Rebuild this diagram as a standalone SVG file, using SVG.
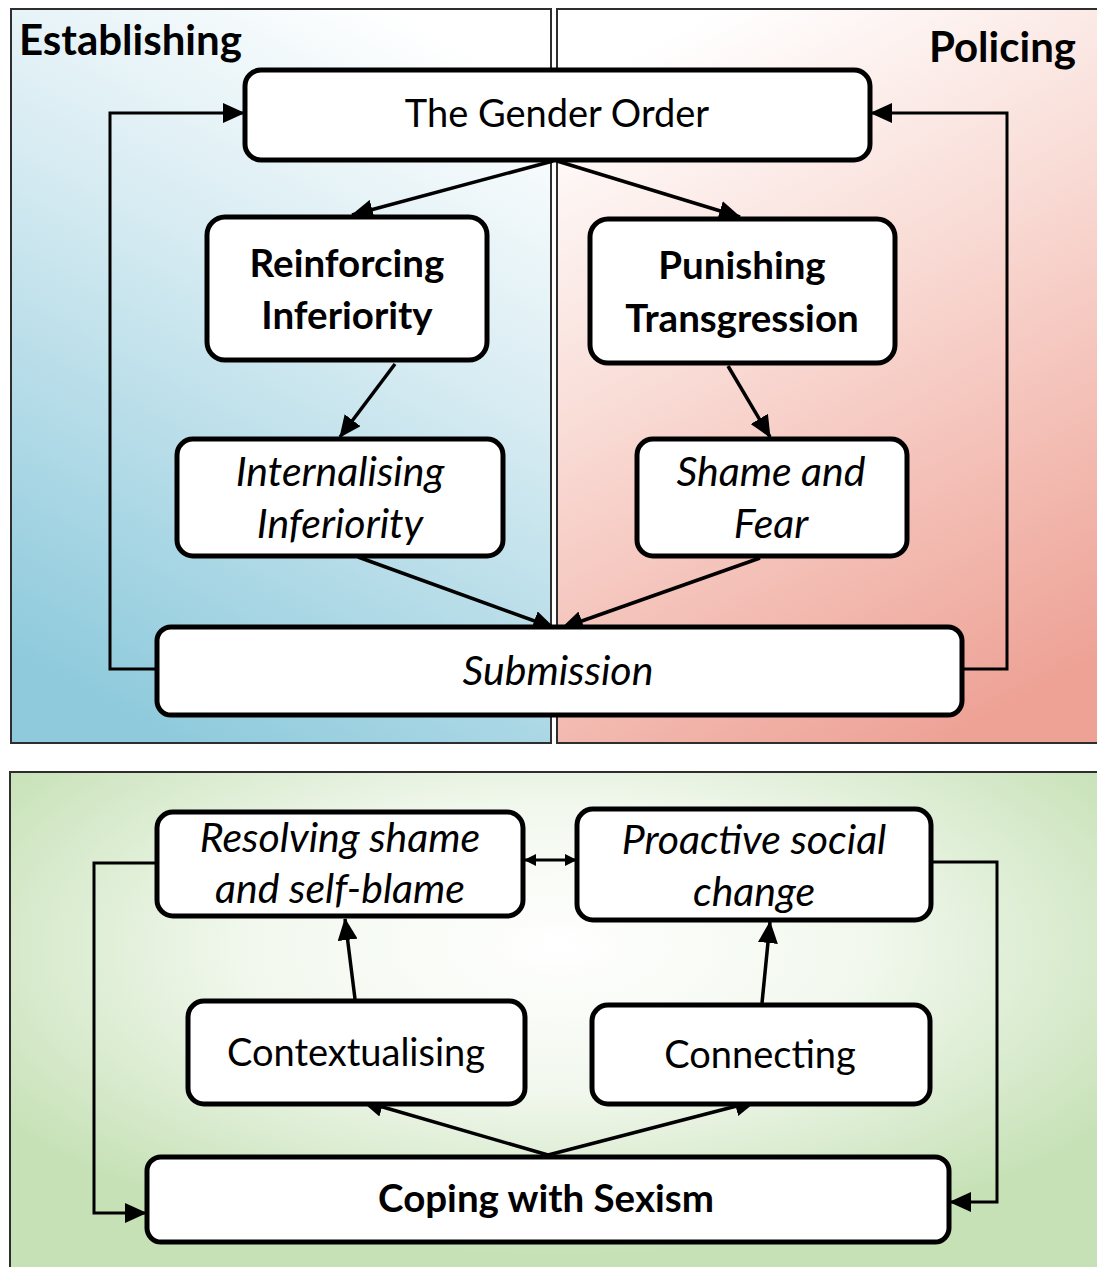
<svg xmlns="http://www.w3.org/2000/svg" width="1097" height="1267" viewBox="0 0 1097 1267">
  <defs>
    <linearGradient id="gradEst" x1="0.7" y1="0" x2="0.3" y2="1">
      <stop offset="0" stop-color="#ffffff"/>
      <stop offset="0.4" stop-color="#d6ebf2"/>
      <stop offset="1" stop-color="#8ecadc"/>
    </linearGradient>
    <linearGradient id="gradPol" x1="0.3" y1="0" x2="0.7" y2="1">
      <stop offset="0" stop-color="#ffffff"/>
      <stop offset="0.4" stop-color="#f9dcd6"/>
      <stop offset="1" stop-color="#eea296"/>
    </linearGradient>
    <radialGradient id="gradCope" cx="0.5" cy="0.35" r="0.62">
      <stop offset="0" stop-color="#ffffff"/>
      <stop offset="0.45" stop-color="#f2f8ee"/>
      <stop offset="1" stop-color="#c6e1b6"/>
    </radialGradient>
    <marker id="ah" markerUnits="userSpaceOnUse" markerWidth="23" markerHeight="20" refX="21" refY="10" orient="auto">
      <path d="M0,0 L22,10 L0,20 z" fill="#000"/>
    </marker>
    <marker id="ahSmall" markerUnits="userSpaceOnUse" markerWidth="12" markerHeight="12" refX="11" refY="6" orient="auto-start-reverse">
      <path d="M0,0 L12,6 L0,12 z" fill="#000"/>
    </marker>
  </defs>
  <style>
    .panel { stroke: #2e2e2e; stroke-width: 2; }
    .node { fill: #ffffff; stroke: #000; stroke-width: 5; }
    .t { font-family: Lato, "Liberation Sans", sans-serif; fill: #000; text-anchor: middle; font-size: 38px; }
    .b { font-weight: bold; font-size: 38.5px; }
    .i { font-style: italic; font-size: 41px; }
    .title { font-family: Lato, "Liberation Sans", sans-serif; font-weight: bold; font-size: 42px; fill: #000; }
    .conn { fill: none; stroke: #000; stroke-width: 3.5; }
    .loop { fill: none; stroke: #000; stroke-width: 3; }
  </style>

  <!-- background panels -->
  <g id="panels">
    <rect class="panel" x="11" y="9" width="540" height="734" fill="url(#gradEst)"/>
    <rect class="panel" x="557" y="9" width="545" height="734" fill="url(#gradPol)"/>
    <rect class="panel" x="10" y="772" width="1095" height="500" fill="url(#gradCope)"/>
    <text class="title" x="19" y="55">Establishing</text>
    <text class="title" x="1076" y="62" text-anchor="end">Policing</text>
  </g>

  <!-- connectors -->
  <g id="connectors">
    <path class="conn" d="M553,161 L352,215" marker-end="url(#ah)"/>
    <path class="conn" d="M557,161 L740,217" marker-end="url(#ah)"/>
    <path class="conn" d="M395,364 L340,437" marker-end="url(#ah)"/>
    <path class="conn" d="M728,366 L770,437" marker-end="url(#ah)"/>
    <path class="conn" d="M358,557 L554,628" marker-end="url(#ah)"/>
    <path class="conn" d="M760,558 L562,628" marker-end="url(#ah)"/>
    <path class="loop" d="M157,669 H110 V113 H244" marker-end="url(#ah)"/>
    <path class="loop" d="M962,669 H1007 V113 H871" marker-end="url(#ah)"/>
    <path class="loop" d="M525,860 L576,860" marker-start="url(#ahSmall)" marker-end="url(#ahSmall)"/>
    <path class="loop" d="M157,863 H94 V1213 H146" marker-end="url(#ah)"/>
    <path class="loop" d="M931,862 H997 V1202 H950" marker-end="url(#ah)"/>
    <path class="conn" d="M355,999 L345,919" marker-end="url(#ah)"/>
    <path class="conn" d="M762,1003 L770,922" marker-end="url(#ah)"/>
    <path class="conn" d="M548,1155 L362,1101" marker-end="url(#ah)"/>
    <path class="conn" d="M548,1155 L756,1101" marker-end="url(#ah)"/>
  </g>

  <!-- nodes -->
  <g id="gender-order">
    <rect class="node" x="245" y="70" width="625" height="90" rx="16"/>
    <text class="t" x="557" y="127">The Gender Order</text>
  </g>
  <g id="reinforcing-inferiority">
    <rect class="node" x="207" y="217" width="280" height="143" rx="18"/>
    <text class="t b" x="347" y="277">Reinforcing</text>
    <text class="t b" x="347" y="329">Inferiority</text>
  </g>
  <g id="punishing-transgression">
    <rect class="node" x="590" y="219" width="305" height="144" rx="18"/>
    <text class="t b" x="742" y="279">Punishing</text>
    <text class="t b" x="742" y="332">Transgression</text>
  </g>
  <g id="internalising-inferiority">
    <rect class="node" x="177" y="439" width="326" height="117" rx="16"/>
    <text class="t i" x="340" y="486">Internalising</text>
    <text class="t i" x="340" y="538">Inferiority</text>
  </g>
  <g id="shame-and-fear">
    <rect class="node" x="637" y="439" width="270" height="117" rx="16"/>
    <text class="t i" x="771" y="486">Shame and</text>
    <text class="t i" x="771" y="538">Fear</text>
  </g>
  <g id="submission">
    <rect class="node" x="157" y="627" width="805" height="88" rx="14"/>
    <text class="t i" x="558" y="685">Submission</text>
  </g>
  <g id="resolving-shame">
    <rect class="node" x="157" y="812" width="366" height="104" rx="16"/>
    <text class="t i" x="340" y="852">Resolving shame</text>
    <text class="t i" x="340" y="903">and self-blame</text>
  </g>
  <g id="proactive-social-change">
    <rect class="node" x="577" y="809" width="354" height="111" rx="16"/>
    <text class="t i" x="754" y="854">Proactive social</text>
    <text class="t i" x="754" y="906">change</text>
  </g>
  <g id="contextualising">
    <rect class="node" x="188" y="1001" width="337" height="103" rx="16"/>
    <text class="t" x="356" y="1066">Contextualising</text>
  </g>
  <g id="connecting">
    <rect class="node" x="592" y="1005" width="338" height="99" rx="16"/>
    <text class="t" x="760" y="1068">Connecting</text>
  </g>
  <g id="coping-with-sexism">
    <rect class="node" x="147" y="1157" width="802" height="85" rx="14"/>
    <text class="t b" x="546" y="1212">Coping with Sexism</text>
  </g>
</svg>
